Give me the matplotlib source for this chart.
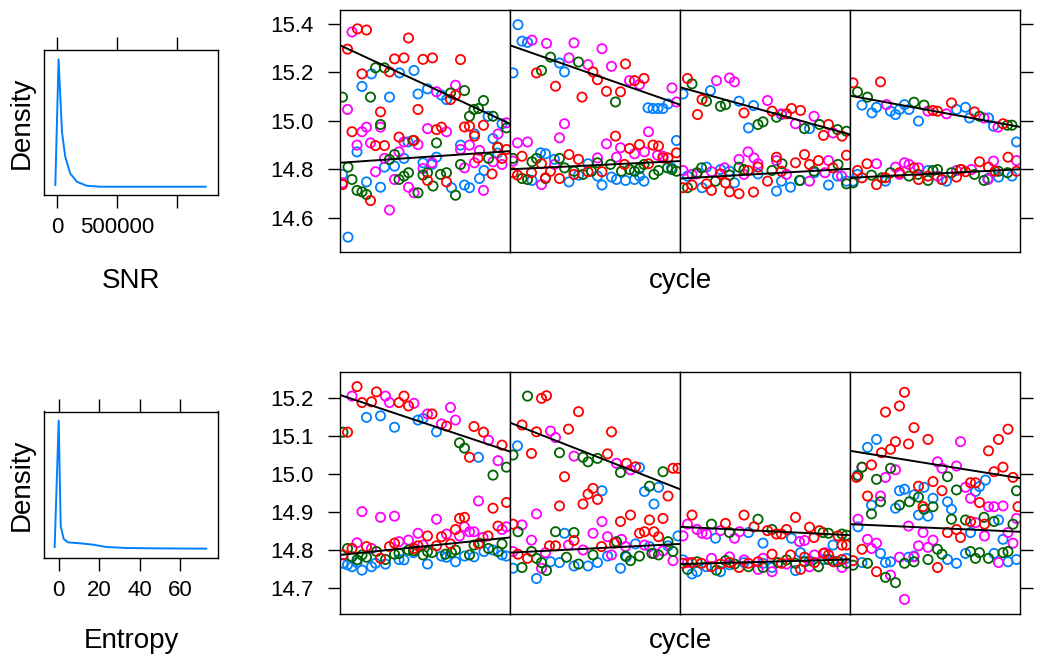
import matplotlib
matplotlib.use("Agg")
import matplotlib.pyplot as plt

plt.rcParams['font.family'] = ['Liberation Sans', 'DejaVu Sans']

# ---------------- data ----------------
# density curves
snr_grid = [-16500, 10700, 38800, 66000, 107000, 163000, 245000, 355000, 600000, 900000, 1237000]
snr_dens = [0.013, 1.0, 0.432, 0.236, 0.105, 0.039, 0.008, 0.0, 0.0, 0.0, 0.0]
snr_ticks = [0, 500000, 1000000]
snr_ticklabels = ["0", "500000", ""]

ent_grid = [-2.0, 0.0, 1.0, 2.5, 4.6, 10.4, 17.0, 23.6, 33.5, 50.0, 73.0]
ent_dens = [0.013, 1.0, 0.174, 0.075, 0.049, 0.042, 0.031, 0.013, 0.005, 0.002, 0.0]
ent_ticks = [0, 20, 40, 60]
ent_ticklabels = ["0", "20", "40", "60"]

snr_yticks = [14.6, 14.8, 15.0, 15.2, 15.4]
ent_yticks = [14.7, 14.8, 14.9, 15.0, 15.1, 15.2]

group_colors = ["#0080ff", "#ff00ff", "#006400", "#ff0000"]  # blue, magenta, green, red

# ---- SNR row, (cycle, value) per panel and group ----
snr_p1_blue = [(6.3,15.194),(11.9,15.198),(14.8,15.208),(4.4,15.142),(9.9,15.098),(15.6,15.111),(17.5,15.132),
               (20.3,15.106),(21.3,15.088),(29.6,15.019),(32.4,14.988),(26.9,14.946),(30.6,14.927),(24.1,14.900),
               (13.6,14.913),(3.4,14.872),(12.8,14.845),(19.3,14.850),(8.9,14.809),(10.9,14.813),(16.6,14.827),
               (18.4,14.820),(0.5,14.779),(5.3,14.748),(8.1,14.726),(28.8,14.795),(27.9,14.762),(22.3,14.724),
               (24.9,14.735),(25.9,14.724),(1.6,14.520),(31.5,14.867)]
snr_p1_magenta = [(2.4,15.367),(1.5,15.047),(23.1,15.147),(19.3,15.120),(5.3,14.974),(4.4,14.955),(8.1,14.974),
                  (3.4,14.900),(6.1,14.909),(17.5,14.968),(21.3,14.955),(15.6,14.902),(12.8,14.913),(11.8,14.872),
                  (8.9,14.845),(24.1,14.882),(25.9,14.900),(27.9,14.878),(31.6,14.946),(33.3,14.992),(26.9,14.827),
                  (30.6,14.831),(32.4,14.820),(24.9,14.806),(18.4,14.827),(16.6,14.803),(7.1,14.790),(10.9,14.758),
                  (13.7,14.726),(14.8,14.703),(28.7,14.713),(9.9,14.632),(0.5,14.744)]
snr_p1_green = [(0.5,15.098),(7.1,15.219),(8.9,15.219),(6.1,15.098),(8.1,14.985),(22.1,15.115),(24.9,15.125),
                (28.7,15.084),(25.9,15.019),(26.8,15.047),(27.7,15.051),(30.6,15.019),(33.3,14.971),(19.3,14.909),
                (14.6,14.919),(31.6,14.891),(29.7,14.845),(24.1,14.820),(1.6,14.809),(10.9,14.861),(9.9,14.841),
                (13.7,14.786),(12.8,14.772),(11.8,14.758),(16.6,14.776),(17.5,14.786),(20.1,14.779),(21.3,14.786),
                (18.6,14.731),(2.4,14.758),(3.4,14.713),(4.4,14.707),(5.3,14.696),(15.6,14.703),(23.1,14.693)]
snr_p1_red = [(3.5,15.380),(5.3,15.375),(13.7,15.342),(1.5,15.296),(10.9,15.256),(12.8,15.260),(16.6,15.254),
              (18.5,15.260),(24.1,15.253),(4.4,15.194),(9.9,15.202),(15.6,15.047),(8.1,15.037),(22.1,15.088),
              (23.1,15.106),(2.4,14.955),(7.1,14.898),(8.9,14.898),(11.8,14.933),(14.8,14.919),(19.3,14.964),
              (20.3,14.974),(24.9,14.975),(25.9,14.978),(26.9,14.937),(28.7,14.982),(31.5,14.891),(27.6,14.847),
              (32.4,14.845),(30.4,14.781),(17.5,14.754),(21.3,14.748),(6.1,14.671),(0.5,14.737),(33.3,14.882)]

snr_p2_blue = [(1.6,15.397),(2.4,15.329),(3.5,15.324),(0.6,15.198),(9.9,15.239),(10.9,15.202),(27.6,15.054),
               (28.6,15.051),(29.6,15.051),(30.6,15.051),(31.6,15.070),(33.3,14.919),(6.1,14.868),(7.1,14.864),
               (8.9,14.841),(15.6,14.823),(4.4,14.754),(11.8,14.748),(18.4,14.735),(20.3,14.768),(21.3,14.758),
               (23.1,14.754),(24.9,14.758),(26.8,14.751),(17.5,14.772),(13.7,14.776),(25.9,14.772),(32.3,14.806)]
snr_p2_magenta = [(4.4,15.333),(7.3,15.320),(12.8,15.322),(18.4,15.298),(11.8,15.260),(15.6,15.232),(20.3,15.225),
                  (23.9,15.166),(25.9,15.150),(32.4,15.136),(33.3,15.078),(10.9,14.988),(9.9,14.930),(1.5,14.909),
                  (3.5,14.913),(19.3,14.905),(22.1,14.889),(27.7,14.955),(24.9,14.864),(26.9,14.872),(21.3,14.850),
                  (17.5,14.847),(29.5,14.858),(30.6,14.854),(6.3,14.737),(8.9,14.820),(0.6,14.834)]
snr_p2_green = [(8.1,15.263),(6.3,15.208),(13.7,15.243),(21.1,15.078),(0.6,14.845),(4.4,14.831),(5.3,14.845),
                (9.9,14.845),(2.4,14.762),(3.5,14.758),(7.1,14.762),(10.9,14.806),(12.8,14.792),(14.6,14.779),
                (17.5,14.827),(20.1,14.820),(22.3,14.792),(23.9,14.799),(24.9,14.792),(25.9,14.803),(26.8,14.820),
                (28.8,14.779),(29.7,14.795),(31.5,14.806),(32.4,14.799),(33.3,14.792),(16.3,14.792)]
snr_p2_red = [(5.3,15.198),(9.1,15.143),(16.6,15.202),(17.5,15.170),(23.1,15.235),(24.9,15.166),(26.8,15.175),
              (14.4,15.098),(19.3,15.122),(22.1,15.120),(21.1,14.937),(11.8,14.861),(23.9,14.886),(25.9,14.902),
              (28.6,14.900),(29.7,14.896),(2.4,14.854),(13.7,14.841),(6.3,14.823),(30.6,14.847),(31.6,14.847),
              (33.3,14.868),(0.6,14.786),(1.5,14.776),(4.3,14.786),(8.1,14.792),(9.9,14.762),(12.8,14.779),
              (15.6,14.790),(18.4,14.790),(27.7,14.823),(22.9,14.820),(7.1,14.765)]

snr_p3_blue = [(0.6,15.111),(6.1,15.125),(11.8,15.081),(14.7,15.063),(13.7,14.971),(20.3,15.026),(25.9,14.968),
               (1.5,14.772),(4.4,14.724),(5.3,14.809),(8.1,14.799),(9.9,14.792),(10.9,14.744),(19.3,14.710),
               (20.3,14.751),(22.1,14.726),(24.1,14.754),(29.7,14.735),(31.5,14.772),(33.3,14.751),(15.6,14.781),
               (26.9,14.786)]
snr_p3_magenta = [(7.3,15.166),(9.9,15.177),(10.9,15.161),(17.5,15.084),(20.3,15.029),(23.1,14.988),(26.8,15.019),
                  (30.6,14.950),(13.6,14.872),(11.8,14.841),(14.8,14.847),(15.6,14.823),(19.3,14.836),(8.9,14.806),
                  (2.4,14.779),(0.6,14.795),(3.4,14.781),(6.3,14.790),(12.8,14.779),(21.3,14.779),(25.9,14.751),
                  (29.7,14.836),(32.3,14.772),(29.0,14.786)]
snr_p3_green = [(2.4,15.153),(5.3,15.081),(8.1,15.060),(9.1,15.067),(15.6,14.985),(16.6,14.996),(19.3,15.015),
                (24.9,14.968),(27.9,14.985),(31.5,14.964),(33.3,14.957),(4.3,14.806),(1.5,14.724),(3.4,14.786),
                (7.1,14.751),(11.8,14.809),(12.8,14.799),(18.4,14.795),(20.4,14.823),(23.9,14.754),(26.8,14.792),
                (31.6,14.820),(33.3,14.740),(9.9,14.776)]
snr_p3_red = [(1.5,15.175),(4.4,15.088),(3.5,15.026),(12.8,15.033),(18.4,15.040),(21.3,15.029),(22.3,15.051),
              (24.1,15.043),(29.7,14.985),(28.7,14.940),(32.4,14.937),(19.3,14.850),(24.9,14.861),(23.1,14.827),
              (27.7,14.836),(33.3,14.858),(15.6,14.809),(13.6,14.795),(8.1,14.781),(17.5,14.751),(20.3,14.792),
              (5.3,14.740),(9.1,14.744),(0.6,14.724),(2.4,14.735),(6.3,14.713),(9.9,14.707),(11.8,14.699),
              (14.7,14.706),(25.9,14.820),(30.6,14.806)]

snr_p4_blue = [(2.4,15.065),(4.4,15.033),(5.3,15.056),(8.1,15.040),(9.1,15.026),(9.9,15.047),(10.9,15.067),
               (11.8,15.047),(13.7,14.999),(21.3,15.047),(23.1,15.056),(23.9,15.012),(27.7,15.012),(28.7,14.978),
               (33.3,14.913),(1.5,14.779),(7.1,14.751),(18.4,14.758),(19.3,14.751),(27.6,14.762),(29.7,14.768),
               (32.4,14.772),(0.6,14.751),(15.6,14.795)]
snr_p4_magenta = [(7.3,15.067),(15.6,15.040),(19.3,15.029),(26.8,15.012),(29.6,14.974),(5.3,14.823),(9.1,14.809),
                  (10.9,14.827),(11.8,14.820),(13.7,14.806),(28.7,14.834),(33.3,14.836),(21.3,14.795),(24.3,14.799),
                  (27.6,14.758),(17.5,14.772),(9.9,14.779)]
snr_p4_green = [(1.5,15.120),(3.5,15.098),(12.8,15.077),(14.8,15.065),(25.9,15.019),(31.5,14.982),(32.4,14.982),
                (0.6,14.744),(4.3,14.776),(8.1,14.786),(11.8,14.772),(15.6,14.754),(16.6,14.795),(17.5,14.799),
                (20.3,14.786),(22.1,14.799),(24.9,14.779),(26.8,14.754),(29.7,14.792),(31.5,14.786),(6.4,14.765),
                (13.6,14.779)]
snr_p4_red = [(0.6,15.157),(6.1,15.161),(20.3,15.074),(16.6,15.043),(17.5,15.040),(24.9,15.037),(30.6,14.988),
              (1.5,14.795),(3.4,14.823),(5.3,14.737),(2.4,14.765),(9.9,14.786),(12.8,14.806),(13.7,14.758),
              (18.4,14.758),(21.3,14.768),(22.3,14.799),(25.9,14.831),(27.7,14.809),(31.6,14.850),(33.3,14.792),
              (7.1,14.765),(15.6,14.772),(23.1,14.790),(29.0,14.792)]

# ---- Entropy row ----
ent_p1_blue = [(5.3,15.149),(8.1,15.153),(10.9,15.123),(15.6,15.142),(16.6,15.146),(19.3,15.111),(27.7,15.044),
               (0.6,14.765),(1.5,14.761),(2.4,14.756),(4.4,14.747),(6.3,14.756),(9.1,14.763),(11.8,14.775),
               (12.8,14.774),(17.5,14.763),(20.3,14.784),(21.3,14.781),(23.1,14.769),(24.9,14.784),(26.8,14.782),
               (28.8,14.796),(30.6,14.800),(32.4,14.787),(33.3,14.784),(14.7,14.793),(3.4,14.767),(7.1,14.765)]
ent_p1_magenta = [(2.4,15.205),(9.1,15.205),(9.9,15.188),(14.8,15.186),(17.5,15.158),(22.1,15.175),(23.1,15.142),
                  (20.3,15.132),(29.7,15.089),(31.6,15.035),(4.4,14.901),(8.1,14.886),(10.9,14.889),(19.3,14.881),
                  (27.7,14.929),(33.3,14.861),(24.9,14.861),(25.9,14.848),(26.8,14.848),(23.9,14.837),(15.6,14.844),
                  (21.3,14.842),(11.8,14.822),(13.7,14.826),(3.4,14.819),(6.3,14.804),(16.6,14.813),(28.6,14.833),
                  (32.4,14.854)]
ent_p1_green = [(0.6,15.110),(23.9,15.082),(24.9,15.068),(30.6,14.997),(33.3,15.018),(1.5,14.804),(3.4,14.774),
                (2.4,14.782),(4.4,14.787),(5.3,14.781),(7.3,14.796),(9.1,14.775),(10.9,14.789),(11.8,14.791),
                (13.7,14.800),(14.7,14.798),(16.6,14.787),(17.5,14.796),(18.4,14.793),(21.1,14.789),(22.3,14.793),
                (23.1,14.800),(25.9,14.787),(26.8,14.813),(27.9,14.818),(29.7,14.804),(31.6,14.796),(32.4,14.816)]
ent_p1_red = [(3.4,15.230),(7.3,15.216),(4.4,15.188),(6.3,15.190),(12.8,15.205),(11.8,15.188),(13.7,15.179),
              (18.4,15.158),(21.3,15.126),(1.5,15.110),(26.8,15.125),(28.7,15.110),(32.4,15.076),(25.9,15.044),
              (30.6,14.910),(33.3,14.925),(23.9,14.883),(24.9,14.886),(23.1,14.854),(31.6,14.863),(29.6,14.837),
              (2.4,14.804),(5.3,14.809),(8.1,14.778),(9.9,14.809),(10.9,14.818),(15.6,14.811),(17.5,14.837),
              (20.3,14.835),(22.1,14.816),(27.7,14.816),(0.6,14.787),(14.8,14.804),(19.3,14.811)]

ent_p2_blue = [(1.5,15.074),(25.9,15.017),(18.4,14.956),(26.9,14.954),(29.7,14.965),(28.8,14.921),(10.9,14.844),
               (0.6,14.752),(5.3,14.725),(9.9,14.767),(12.8,14.758),(15.6,14.758),(17.5,14.767),(19.5,14.784),
               (22.1,14.752),(25.1,14.816),(27.9,14.809),(33.6,14.837),(31.6,14.811),(8.1,14.769),(23.3,14.782)]
ent_p2_magenta = [(8.1,15.113),(9.1,15.096),(12.8,15.047),(21.3,15.028),(24.1,15.011),(5.3,14.895),(2.4,14.866),
                  (18.4,14.875),(16.6,14.844),(19.5,14.835),(22.3,14.828),(4.3,14.826),(11.7,14.813),(14.6,14.800),
                  (23.1,14.809),(26.9,14.813),(7.1,14.793),(20.3,14.787),(28.8,14.791),(30.6,14.798),(32.6,14.772),
                  (6.3,14.752),(0.6,14.796)]
ent_p2_green = [(3.5,15.205),(0.6,15.050),(9.9,15.056),(14.6,15.044),(15.6,15.032),(17.5,15.041),(22.1,15.004),
                (30.6,15.006),(27.9,14.968),(1.6,14.848),(9.1,14.848),(12.8,14.846),(21.3,14.822),(4.3,14.796),
                (5.3,14.778),(6.3,14.767),(2.4,14.754),(7.3,14.746),(11.3,14.781),(13.7,14.763),(16.6,14.787),
                (23.1,14.784),(24.1,14.772),(25.9,14.784),(28.4,14.791),(29.7,14.787),(32.6,14.796),(31.6,14.822)]
ent_p2_red = [(6.3,15.199),(7.3,15.206),(13.7,15.164),(2.4,15.129),(5.3,15.111),(11.7,15.118),(20.3,15.111),
              (4.3,15.054),(19.5,15.053),(23.3,15.028),(25.1,15.019),(32.6,15.015),(33.6,15.015),(10.9,14.993),
              (16.6,14.962),(15.6,14.947),(17.5,14.933),(14.6,14.921),(9.9,14.916),(31.6,14.942),(24.1,14.892),
              (22.1,14.875),(27.9,14.879),(30.6,14.883),(0.6,14.868),(25.9,14.844),(26.9,14.848),(28.8,14.848),
              (29.7,14.835),(12.8,14.825),(20.9,14.818),(7.9,14.811),(9.1,14.811),(18.3,14.809),(1.6,14.789),
              (3.5,14.778)]

ent_p3_blue = [(7.1,14.831),(13.7,14.846),(16.6,14.818),(22.3,14.831),(30.6,14.813),(0.6,14.774),(2.4,14.737),
               (3.4,14.743),(5.3,14.756),(8.1,14.743),(9.9,14.761),(12.8,14.767),(16.6,14.765),(18.4,14.754),
               (23.1,14.746),(24.1,14.793),(25.9,14.772),(28.8,14.775),(30.6,14.772),(33.3,14.778)]
ent_p3_magenta = [(0.6,14.837),(1.5,14.868),(3.4,14.854),(4.4,14.844),(5.3,14.842),(8.1,14.851),(10.9,14.831),
                  (11.9,14.848),(23.9,14.822),(24.9,14.825),(1.5,14.767),(6.3,14.778),(9.9,14.782),(15.6,14.749),
                  (18.4,14.743),(16.6,14.778),(21.3,14.763),(26.9,14.787),(29.0,14.793),(32.4,14.754),(25.9,14.756),
                  (12.8,14.774)]
ent_p3_green = [(6.3,14.868),(9.9,14.846),(15.6,14.881),(18.4,14.854),(28.6,14.846),(29.7,14.844),(32.4,14.842),
                (33.3,14.839),(1.5,14.749),(3.4,14.769),(7.3,14.747),(10.9,14.763),(13.7,14.756),(16.6,14.754),
                (19.6,14.767),(21.3,14.774),(23.1,14.765),(24.9,14.769),(27.7,14.756),(29.7,14.775),(31.6,14.769),
                (33.3,14.765),(9.1,14.772)]
ent_p3_red = [(2.4,14.892),(9.1,14.870),(12.8,14.892),(14.8,14.861),(17.5,14.851),(19.3,14.842),(20.3,14.842),
              (21.3,14.854),(23.1,14.886),(25.9,14.860),(26.8,14.833),(27.9,14.851),(31.6,14.837),(32.4,14.813),
              (33.3,14.813),(0.6,14.765),(2.4,14.767),(4.3,14.765),(6.3,14.756),(8.1,14.763),(9.9,14.767),
              (11.8,14.754),(13.7,14.765),(15.6,14.769),(18.4,14.789),(20.3,14.765),(22.1,14.787),(24.1,14.749),
              (24.9,14.781),(26.9,14.767),(28.7,14.791),(29.7,14.787),(30.7,14.769),(32.4,14.775)]

ent_p4_blue = [(5.3,15.091),(3.5,15.070),(1.5,14.997),(27.1,14.984),(4.3,14.918),(9.9,14.956),(10.9,14.960),
               (12.8,14.945),(14.8,14.965),(16.6,14.936),(9.1,14.910),(13.7,14.892),(15.6,14.889),(19.5,14.927),
               (20.3,14.907),(25.1,14.954),(25.9,14.967),(24.1,14.846),(29.7,14.879),(30.6,14.828),(1.6,14.861),
               (6.1,14.791),(7.1,14.767),(8.1,14.769),(11.7,14.781),(12.8,14.784),(19.5,14.775),(21.3,14.765),
               (23.1,14.791),(28.8,14.791),(31.6,14.769),(33.3,14.775),(2.4,14.767)]
ent_p4_magenta = [(22.1,15.085),(17.5,15.032),(18.4,15.015),(21.3,15.021),(9.1,15.011),(7.1,14.991),(23.1,14.965),
                  (24.1,14.936),(27.7,14.914),(28.8,14.914),(30.6,14.916),(6.1,14.942),(33.3,14.883),(1.6,14.881),
                  (11.7,14.863),(14.6,14.846),(25.1,14.872),(26.9,14.837),(31.6,14.846),(3.5,14.828),(5.3,14.818),
                  (4.3,14.804),(13.7,14.811),(15.6,14.807),(16.6,14.826),(32.6,14.818),(9.9,14.781),(12.8,14.782),
                  (8.1,14.734),(10.9,14.670),(29.7,14.767),(2.4,15.018)]
ent_p4_green = [(2.4,15.018),(1.6,14.995),(8.1,15.015),(5.3,14.986),(6.1,14.927),(4.3,14.895),(19.5,14.993),
                (21.3,14.958),(9.9,14.918),(11.9,14.927),(13.7,14.939),(14.8,14.907),(16.6,14.914),(20.3,14.881),
                (23.1,14.879),(26.8,14.886),(28.8,14.875),(32.6,14.868),(33.3,14.956),(17.5,14.802),(18.4,14.789),
                (15.6,14.775),(12.8,14.769),(10.9,14.765),(3.5,14.765),(7.1,14.728),(9.1,14.714),(24.1,14.796),
                (25.1,14.778),(25.9,14.793),(27.7,14.778),(30.6,14.793),(31.6,14.796),(0.6,14.760)]
ent_p4_red = [(10.9,15.215),(9.9,15.179),(7.1,15.163),(12.8,15.122),(31.6,15.118),(29.7,15.091),(15.6,15.091),
              (9.1,15.085),(8.1,15.065),(6.3,15.056),(11.7,15.079),(27.7,15.061),(30.6,15.018),(28.8,15.006),
              (4.3,15.024),(32.6,14.991),(24.1,14.977),(25.1,14.977),(16.6,14.980),(13.7,14.968),(3.5,14.942),
              (18.4,14.956),(25.9,14.925),(14.6,14.914),(33.6,14.914),(24.1,14.875),(26.9,14.868),(19.5,14.846),
              (21.3,14.854),(22.1,14.833),(2.4,14.802),(5.3,14.743),(17.5,14.754),(0.6,14.772),(1.3,14.991)]

# fitted lines per panel: (value at panel start, value at panel end)
snr_fit_upper = [(15.312, 14.988), (15.312, 15.067), (15.139, 14.944), (15.104, 14.975)]
snr_fit_lower = [(14.827, 14.875), (14.800, 14.834), (14.762, 14.802), (14.765, 14.800)]
ent_fit_upper = [(15.208, 15.059), (15.135, 14.960), (14.861, 14.839), (15.061, 14.989)]
ent_fit_lower = [(14.787, 14.833), (14.793, 14.816), (14.763, 14.775), (14.868, 14.848)]

cycle_range = (0, 34)

snr_panels = [
    [snr_p1_blue, snr_p1_magenta, snr_p1_green, snr_p1_red],
    [snr_p2_blue, snr_p2_magenta, snr_p2_green, snr_p2_red],
    [snr_p3_blue, snr_p3_magenta, snr_p3_green, snr_p3_red],
    [snr_p4_blue, snr_p4_magenta, snr_p4_green, snr_p4_red],
]
ent_panels = [
    [ent_p1_blue, ent_p1_magenta, ent_p1_green, ent_p1_red],
    [ent_p2_blue, ent_p2_magenta, ent_p2_green, ent_p2_red],
    [ent_p3_blue, ent_p3_magenta, ent_p3_green, ent_p3_red],
    [ent_p4_blue, ent_p4_magenta, ent_p4_green, ent_p4_red],
]

# ---------------- layout ----------------
W, H = 1050, 661
fig = plt.figure(figsize=(W / 100, H / 100), dpi=100)


def add_ax(left, top, right, bottom):
    return fig.add_axes([left / W, 1 - bottom / H, (right - left) / W, (bottom - top) / H])


TICK_FS = 16
LAB_FS = 20


def density_panel(box, grid, dens, xlim, ylim, ticks, ticklabels, xlabel, label_base):
    ax = add_ax(*box)
    ax.plot(grid, dens, color="#0080ff", lw=1.4)
    ax.set_xlim(*xlim)
    ax.set_ylim(*ylim)
    ax.set_yticks([])
    ax.set_xticks(ticks)
    ax.set_xticklabels(ticklabels)
    ax.tick_params(axis="x", direction="out", length=9.5, width=1.0, top=True, bottom=True,
                   labelsize=TICK_FS, pad=6)
    for s in ax.spines.values():
        s.set_linewidth(1.0)
    cy = (box[1] + box[3]) / 2
    fig.text(22 / W, 1 - cy / H, "Density", rotation=90, ha="center", va="center", fontsize=LAB_FS)
    fig.text(131 / W, 1 - label_base / H, xlabel, ha="center", va="baseline", fontsize=LAB_FS)
    return ax


def scatter_row(top, bottom, panels, fit_upper, fit_lower, ylim, yticks, label_base):
    left0 = 340
    pw = 170
    for i, groups in enumerate(panels):
        ax = add_ax(left0 + i * pw, top, left0 + (i + 1) * pw, bottom)
        for pts, col in zip(groups, group_colors):
            xs = [p[0] for p in pts]
            ys = [p[1] for p in pts]
            ax.scatter(xs, ys, s=44, facecolors="none", edgecolors=col, linewidths=1.3, zorder=2)
        for fit in (fit_upper[i], fit_lower[i]):
            ax.plot(cycle_range, fit, color="black", lw=1.4, zorder=3)
        ax.set_xlim(*cycle_range)
        ax.set_ylim(*ylim)
        ax.set_xticks([])
        ax.set_yticks(yticks)
        for s in ax.spines.values():
            s.set_linewidth(1.0)
        if i == 0:
            ax.tick_params(axis="y", direction="out", length=9, width=1.0, left=True, right=False,
                           labelleft=True, labelright=False, labelsize=TICK_FS, pad=10)
            ax.set_yticklabels([f"{v:.1f}" for v in yticks])
        elif i == len(panels) - 1:
            ax.tick_params(axis="y", direction="out", length=9, width=1.0, left=False, right=True,
                           labelleft=False, labelright=False)
        else:
            ax.tick_params(axis="y", left=False, right=False, labelleft=False, labelright=False)
    fig.text(680 / W, 1 - label_base / H, "cycle", ha="center", va="baseline", fontsize=LAB_FS)


density_panel((44, 50, 218, 195), snr_grid, snr_dens, (-110833, 1339167), (-0.065, 1.073),
              snr_ticks, snr_ticklabels, "SNR", 288)
density_panel((44, 411.5, 218, 558), ent_grid, ent_dens, (-7.27, 78.8), (-0.073, 1.07),
              ent_ticks, ent_ticklabels, "Entropy", 648)

scatter_row(10, 252, snr_panels, snr_fit_upper, snr_fit_lower, (14.4586, 15.4577), snr_yticks, 288)
scatter_row(372, 614, ent_panels, ent_fit_upper, ent_fit_lower, (14.6316, 15.2684), ent_yticks, 648)

fig.savefig("out.png", dpi=100)
